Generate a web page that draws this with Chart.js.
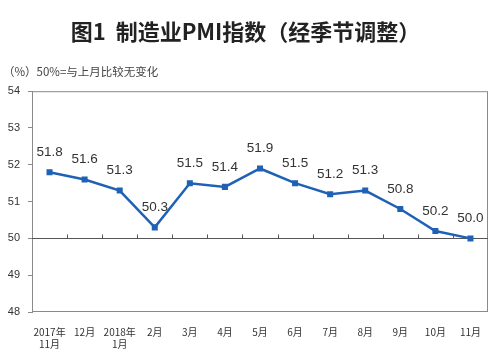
<!DOCTYPE html>
<html>
<head>
<meta charset="utf-8">
<script src="https://cdn.jsdelivr.net/npm/chart.js@4/dist/chart.umd.min.js"></script>
<style>
  html,body{margin:0;padding:0;background:#fff;}
  #wrap{width:500px;height:359px;position:relative;}
</style>
</head>
<body>
<div id="wrap"><canvas id="pmi"></canvas></div>
<script>
// data
const months = [["2017年","11月"],"12月",["2018年","1月"],"2月","3月","4月","5月","6月","7月","8月","9月","10月","11月"];
const pmiValues = [51.8,51.6,51.3,50.3,51.5,51.4,51.9,51.5,51.2,51.3,50.8,50.2,50.0];
const yTicks = [48,49,50,51,52,53,54];
const baseLine = 50;

const LINE_BLUE = "#1f62b5";
const FRAME = "#8a8a8a";

// frame, 50 line with small ticks, value labels
const pmiDecor = {
    id:"pmiDecor",
    beforeDatasetsDraw(chart){
        const {ctx,chartArea:a,scales} = chart;
        ctx.save();
        ctx.strokeStyle=FRAME; ctx.lineWidth=1;
        ctx.strokeRect(a.left+0.5,a.top+0.5,a.width-1,a.height-1);
        const y = Math.round(scales.y.getPixelForValue(baseLine))+0.5;
        ctx.strokeStyle="#555";
        ctx.beginPath(); ctx.moveTo(a.left,y); ctx.lineTo(a.right,y); ctx.stroke();
        // tick marks between categories
        for(let i=1;i<months.length;i++){
            const x = Math.round((scales.x.getPixelForValue(i-1)+scales.x.getPixelForValue(i))/2)+0.5;
            ctx.beginPath(); ctx.moveTo(x,y); ctx.lineTo(x,y-4); ctx.stroke();
        }
        ctx.restore();
    },
    afterDatasetsDraw(chart){
        const {ctx} = chart;
        const meta = chart.getDatasetMeta(0);
        ctx.save();
        ctx.font="13.5px 'Liberation Sans', Arial, sans-serif";
        ctx.fillStyle="#333";
        ctx.textAlign="center"; ctx.textBaseline="middle";
        meta.data.forEach((pt,i)=>{
            ctx.fillText(pmiValues[i].toFixed(1),pt.x,pt.y-20);
        });
        ctx.restore();
    }
};

new Chart(document.getElementById("pmi"),{
    type:"line",
    data:{
        labels:months,
        datasets:[{
            data:pmiValues,
            borderColor:LINE_BLUE,
            backgroundColor:LINE_BLUE,
            borderWidth:2.5,
            pointStyle:"rect",
            pointRadius:2.5,
            pointHoverRadius:2.5,
            tension:0
        }]
    },
    options:{
        responsive:true,
        maintainAspectRatio:false,
        animation:false,
        events:[],
        layout:{padding:{left:3,right:12,top:0,bottom:0}},
        plugins:{
            legend:{display:false},
            tooltip:{enabled:false},
            title:{
                display:true,
                text:"图1  制造业PMI指数（经季节调整）",
                color:"#222",
                font:{family:"'Noto Sans CJK SC', sans-serif",size:22,weight:"bold"},
                padding:{top:18,bottom:10}
            },
            subtitle:{
                display:true,
                text:"（%）50%=与上月比较无变化",
                align:"start",
                color:"#444",
                font:{family:"'Noto Sans CJK SC', sans-serif",size:11.5},
                padding:{top:10,bottom:13}
            }
        },
        scales:{
            x:{
                offset:true,
                grid:{display:false},
                border:{display:false},
                ticks:{
                    color:"#333",
                    padding:6,
                    maxRotation:0,
                    autoSkip:false,
                    font:{family:"'Noto Sans CJK SC', sans-serif",size:10}
                },
                afterFit(s){ s.height=47; }
            },
            y:{
                min:yTicks[0],
                max:yTicks[yTicks.length-1],
                afterBuildTicks(s){ s.ticks=yTicks.map(v=>({value:v})); },
                grid:{drawOnChartArea:false,color:FRAME,tickLength:4},
                border:{color:FRAME},
                ticks:{
                    color:"#333",
                    padding:8,
                    font:{family:"'Liberation Sans', Arial, sans-serif",size:11}
                },
                afterFit(s){ s.width=29; }
            }
        }
    },
    plugins:[pmiDecor]
});
</script>
</body>
</html>
